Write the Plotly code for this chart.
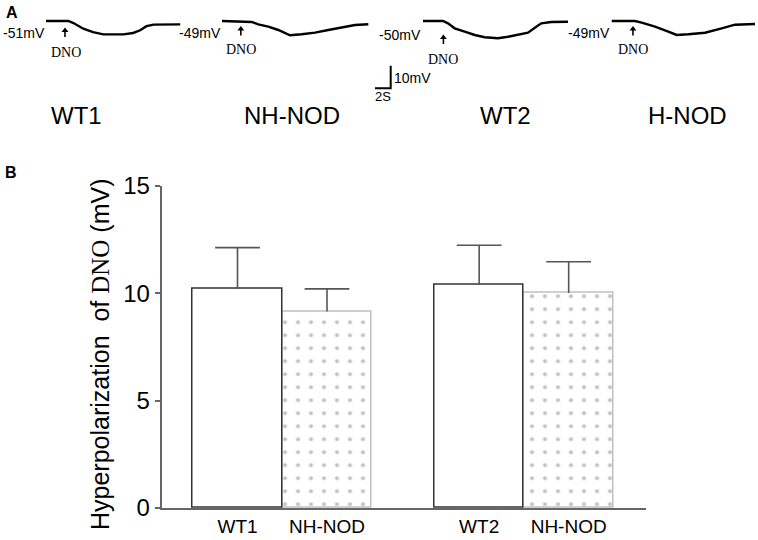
import plotly.graph_objects as go

W, H = 758, 540
SANS = "Liberation Sans, Arial, sans-serif"
SERIF = "Liberation Serif, Times New Roman, serif"

# ---------------- Panel A data (time in s after trace start, change in mV) ----
groups_A = ["WT1", "NH-NOD", "WT2", "H-NOD"]
rest_mv = [-51, -49, -50, -49]

t1 = [0, 2.85, 3.5, 4.75, 6.0, 7.3, 9.85, 11.1, 12.0, 12.8, 13.7, 17.1]
v1 = [0, 0, -0.9, -3.4, -4.9, -5.9, -5.9, -5.3, -4.1, -2.3, -1.6, -1.5]
t2 = [0, 3.57, 3.78, 4.62, 5.9, 7.17, 8.66, 10.15, 11.85, 13.54, 15.25, 16.94, 18.64]
v2 = [0, -0.13, -0.44, -1.46, -2.48, -3.98, -6.33, -5.88, -5.13, -3.98, -2.92, -1.77, -1.46]
t3 = [0, 2.55, 3.18, 4.04, 5.31, 6.59, 7.86, 9.55, 10.83, 12.1, 13.38, 14.43, 15.07, 16.34, 18.47]
v3 = [0, 0, -1.02, -3.23, -4.73, -6.19, -7.21, -7.65, -6.95, -6.19, -5.18, -2.52, -1.02, -0.44, -0.31]
t4 = [0, 2.97, 3.82, 5.52, 7.21, 8.28, 9.76, 11.89, 14.01, 15.71, 18.25]
v4 = [0, 0, -0.75, -2.52, -4.73, -6.19, -5.88, -5.18, -3.23, -1.64, -1.33]
dno_time_s = [2.42, 2.4, 2.6, 2.71]   # DNO application, s after trace start

scale_time_s = [2, 2, 0]
scale_mv = [10, 0, 0]

# ---------------- Panel B data ------------------------------------------------
categories = ["WT1", "NH-NOD", "WT2", "NH-NOD"]
mean_mv = [10.19, 9.15, 10.40, 10.01]
sem_mv = [1.93, 1.05, 1.83, 1.45]

# ---------------- layout helpers ---------------------------------------------
PX_PER_S = 7.85
PX_PER_MV = 2.26
A_BOT_PX, A_BASE_PX = 140, 21
trace_start_s = [46 / PX_PER_S, 222 / PX_PER_S, 423 / PX_PER_S, 611.7 / PX_PER_S]
scale_origin = (375 / PX_PER_S, (A_BASE_PX - 88.3) / PX_PER_MV)
bar_pos = [1, 2, 3.7, 4.7]
CAP_HALF = 0.25
arrow_tip_px = [28, 26.5, 35, 26.5]
arrow_len_px = 9


def px(x):
    return x / W


def py(y):
    return 1 - y / H


def mv_at(ypix):
    return (A_BASE_PX - ypix) / PX_PER_MV


fig = go.Figure()

# Panel A traces
for tt, vv, t0 in zip([t1, t2, t3, t4], [v1, v2, v3, v4], trace_start_s):
    fig.add_trace(go.Scatter(
        x=[t + t0 for t in tt], y=vv, mode="lines",
        line=dict(color="black", width=2.4, shape="linear"),
        xaxis="x2", yaxis="y2", showlegend=False, hoverinfo="skip"))

# DNO arrows (stem + head)
sx, sy, hx, hy = [], [], [], []
for t0, td, tip in zip(trace_start_s, dno_time_s, arrow_tip_px):
    xs = t0 + td
    sx += [xs, xs, None]
    sy += [mv_at(tip + arrow_len_px), mv_at(tip + 3), None]
    hx.append(xs)
    hy.append(mv_at(tip + 2.5))
fig.add_trace(go.Scatter(x=sx, y=sy, mode="lines", line=dict(color="black", width=1.6),
                         xaxis="x2", yaxis="y2", showlegend=False, hoverinfo="skip"))
fig.add_trace(go.Scatter(x=hx, y=hy, mode="markers",
                         marker=dict(symbol="triangle-up", size=6, color="black",
                                     line=dict(width=0)),
                         xaxis="x2", yaxis="y2", showlegend=False, hoverinfo="skip"))

fig.add_trace(go.Scatter(
    x=[t + scale_origin[0] for t in scale_time_s],
    y=[v + scale_origin[1] for v in scale_mv], mode="lines",
    line=dict(color="black", width=2), xaxis="x2", yaxis="y2",
    showlegend=False, hoverinfo="skip"))

# Panel B bars
is_wt = [0, 2]
is_nod = [1, 3]
fig.add_trace(go.Bar(
    x=[bar_pos[i] for i in is_nod], y=[mean_mv[i] for i in is_nod], width=1,
    marker=dict(color="white",
                pattern=dict(shape=".", fgcolor="#858585", bgcolor="white",
                             size=13, solidity=0.08),
                line=dict(color="#c0c0c0", width=1.5)),
    showlegend=False, hoverinfo="skip"))
fig.add_trace(go.Bar(
    x=[bar_pos[i] for i in is_wt], y=[mean_mv[i] for i in is_wt], width=1,
    marker=dict(color="white", line=dict(color="#333", width=1.5)),
    showlegend=False, hoverinfo="skip"))

# upward-only error bars (stem + cap) built from mean and SEM
ex, ey = [], []
for c, m, s in zip(bar_pos, mean_mv, sem_mv):
    ex += [c, c, None, c - CAP_HALF, c + CAP_HALF, None]
    ey += [m, m + s, None, m + s, m + s, None]
fig.add_trace(go.Scatter(x=ex, y=ey, mode="lines", line=dict(color="#555", width=1.6),
                         showlegend=False, hoverinfo="skip", cliponaxis=False))

annotations = []
annotations.append(dict(text="<b>A</b>", x=px(4), y=py(2), xanchor="left", yanchor="top",
                        font=dict(family=SANS, size=16, color="black")))
annotations.append(dict(text="<b>B</b>", x=px(3), y=py(162), xanchor="left", yanchor="top",
                        font=dict(family=SANS, size=16, color="black")))

rest_lbl_pos = [(1, 33), (177.3, 33), (377, 35), (565.7, 33)]
for r, (lx, ly) in zip(rest_mv, rest_lbl_pos):
    annotations.append(dict(text=f"{r}mV", x=px(lx), y=py(ly), xanchor="left",
                            yanchor="middle", font=dict(family=SANS, size=14, color="black")))

dno_lbl = [(66, 52), (241, 49), (443, 59), (633, 49)]
for dx, dy in dno_lbl:
    annotations.append(dict(text="DNO", x=px(dx), y=py(dy), xanchor="center", yanchor="middle",
                            font=dict(family=SERIF, size=14, color="black")))

annotations.append(dict(text="10mV", x=px(392), y=py(78), xanchor="left", yanchor="middle",
                        font=dict(family=SANS, size=14, color="black")))
annotations.append(dict(text="2S", x=px(382.5), y=py(96), xanchor="center", yanchor="middle",
                        font=dict(family=SANS, size=13, color="black")))

grp_x = [76, 292, 505, 687]
for g, gx in zip(groups_A, grp_x):
    annotations.append(dict(text=g, x=px(gx), y=py(116), xanchor="center", yanchor="middle",
                            font=dict(family=SANS, size=24, color="black")))

annotations.append(dict(
    text="Hyperpolarization\u00a0\u00a0of <span style=\"font-family:Liberation Serif, Times New Roman, serif\">DNO</span> (mV)",
    x=px(100), y=py(354), xanchor="center", yanchor="middle", textangle=-90,
    font=dict(family=SANS, size=25, color="black")))

for a in annotations:
    a.setdefault("xref", "paper")
    a.setdefault("yref", "paper")
    a.setdefault("showarrow", False)

fig.update_layout(
    width=W, height=H, margin=dict(l=0, r=0, t=0, b=0, pad=0, autoexpand=False),
    paper_bgcolor="white", plot_bgcolor="white",
    barmode="overlay", bargap=0,
    font=dict(family=SANS, color="black"),
    annotations=annotations,
    xaxis=dict(domain=[161.5 / W, 646 / W], range=[0.151, 5.564],
               showline=True, linecolor="#666", linewidth=1.5, ticks="",
               tickvals=bar_pos, ticktext=categories, showgrid=False, zeroline=False,
               ticklabelstandoff=0, automargin=False,
               tickfont=dict(family=SANS, size=19, color="black"), fixedrange=True),
    yaxis=dict(domain=[32 / H, (H - 185.7) / H], range=[0, 15],
               showline=True, linecolor="#666", linewidth=1.5,
               ticks="outside", ticklen=5, tickwidth=1.5, tickcolor="#666",
               tickvals=[0, 5, 10, 15], showgrid=False, zeroline=False, automargin=False,
               tickfont=dict(family=SANS, size=24, color="black"), fixedrange=True),
    xaxis2=dict(domain=[0, 1], range=[0, W / PX_PER_S], visible=False, fixedrange=True,
                automargin=False),
    yaxis2=dict(domain=[1 - A_BOT_PX / H, 1],
                range=[-(A_BOT_PX - A_BASE_PX) / PX_PER_MV, A_BASE_PX / PX_PER_MV],
                visible=False, fixedrange=True, automargin=False),
)

fig.write_html(
    "out.html",
    config={"displayModeBar": False},
    post_script="document.body.style.margin='0';document.body.style.overflow='hidden';",
)
